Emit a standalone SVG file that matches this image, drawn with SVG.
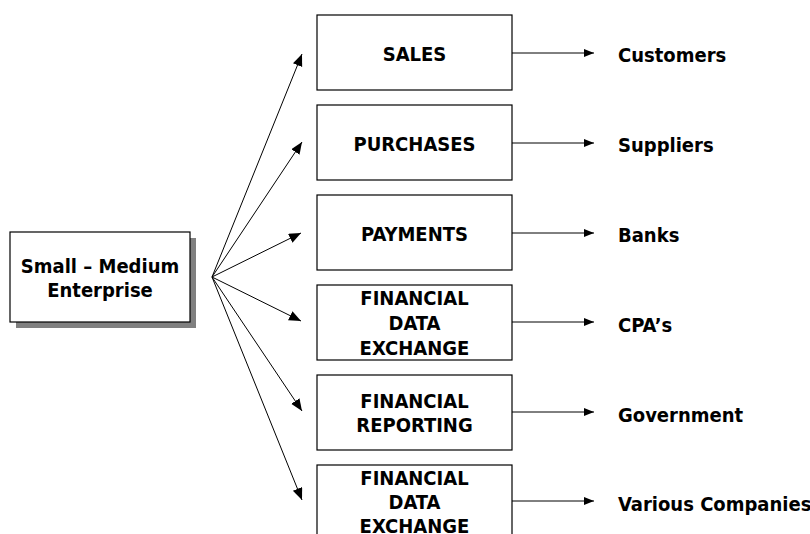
<svg xmlns="http://www.w3.org/2000/svg" width="810" height="534" viewBox="0 0 810 534">
  <style>
    .box { fill: #ffffff; stroke: #000000; stroke-width: 1.2; }
    .shadow { fill: #808080; stroke: none; }
    .txt { font-family: "DejaVu Sans Condensed", "DejaVu Sans", Verdana, sans-serif; font-stretch: condensed; font-weight: bold; font-size: 20px; fill: #000000; }
    .mid { text-anchor: middle; }
    .fan { stroke: #000000; stroke-width: 1; fill: none; marker-end: url(#headBig); }
    .flow { stroke: #000000; stroke-width: 1; fill: none; marker-end: url(#headSmall); }
  </style>
  <defs>
    <marker id="headBig" markerUnits="userSpaceOnUse" markerWidth="13" markerHeight="11" refX="12" refY="5" orient="auto">
      <path d="M0,0 L12,5 L0,10 z" fill="#000000"/>
    </marker>
    <marker id="headSmall" markerUnits="userSpaceOnUse" markerWidth="11" markerHeight="9" refX="10" refY="4" orient="auto">
      <path d="M0,0 L10,4 L0,8 z" fill="#000000"/>
    </marker>
  </defs>

  <rect width="810" height="534" fill="#ffffff"/>

  <!-- source node -->
  <g id="enterprise">
    <rect class="shadow" x="16" y="238" width="180" height="90"/>
    <rect class="box" x="10" y="232" width="180" height="90"/>
    <text class="txt mid" x="100" y="273">Small – Medium</text>
    <text class="txt mid" x="100" y="297">Enterprise</text>
  </g>

  <!-- process nodes -->
  <g id="sales">
    <rect class="box" x="317" y="15" width="195" height="75"/>
    <text class="txt mid" x="414.5" y="61">SALES</text>
  </g>
  <g id="purchases">
    <rect class="box" x="317" y="105" width="195" height="75"/>
    <text class="txt mid" x="414.5" y="151">PURCHASES</text>
  </g>
  <g id="payments">
    <rect class="box" x="317" y="195" width="195" height="75"/>
    <text class="txt mid" x="414.5" y="241">PAYMENTS</text>
  </g>
  <g id="data-exchange-1">
    <rect class="box" x="317" y="285" width="195" height="75"/>
    <text class="txt mid" x="414.5" y="305">FINANCIAL</text>
    <text class="txt mid" x="414.5" y="330">DATA</text>
    <text class="txt mid" x="414.5" y="355">EXCHANGE</text>
  </g>
  <g id="reporting">
    <rect class="box" x="317" y="375" width="195" height="75"/>
    <text class="txt mid" x="414.5" y="408">FINANCIAL</text>
    <text class="txt mid" x="414.5" y="432">REPORTING</text>
  </g>
  <g id="data-exchange-2">
    <rect class="box" x="317" y="465" width="195" height="75"/>
    <text class="txt mid" x="414.5" y="485">FINANCIAL</text>
    <text class="txt mid" x="414.5" y="509">DATA</text>
    <text class="txt mid" x="414.5" y="533">EXCHANGE</text>
  </g>

  <!-- party labels -->
  <g id="customers"><text class="txt" x="618" y="62">Customers</text></g>
  <g id="suppliers"><text class="txt" x="618" y="152">Suppliers</text></g>
  <g id="banks"><text class="txt" x="618" y="242">Banks</text></g>
  <g id="cpas"><text class="txt" x="618" y="332">CPA’s</text></g>
  <g id="government"><text class="txt" x="618" y="422">Government</text></g>
  <g id="companies"><text class="txt" x="618" y="511">Various Companies</text></g>

  <!-- connectors -->
  <g id="connectors">
    <line class="fan" x1="212" y1="277" x2="302" y2="54"/>
    <line class="fan" x1="212" y1="277" x2="302" y2="142"/>
    <line class="fan" x1="212" y1="277" x2="301" y2="233"/>
    <line class="fan" x1="212" y1="277" x2="301" y2="321"/>
    <line class="fan" x1="212" y1="277" x2="302" y2="411"/>
    <line class="fan" x1="212" y1="277" x2="302" y2="500"/>

    <line class="flow" x1="512" y1="53" x2="594" y2="53"/>
    <line class="flow" x1="512" y1="143" x2="594" y2="143"/>
    <line class="flow" x1="512" y1="233" x2="594" y2="233"/>
    <line class="flow" x1="512" y1="322" x2="594" y2="322"/>
    <line class="flow" x1="512" y1="412" x2="594" y2="412"/>
    <line class="flow" x1="512" y1="501" x2="594" y2="501"/>
  </g>
</svg>
